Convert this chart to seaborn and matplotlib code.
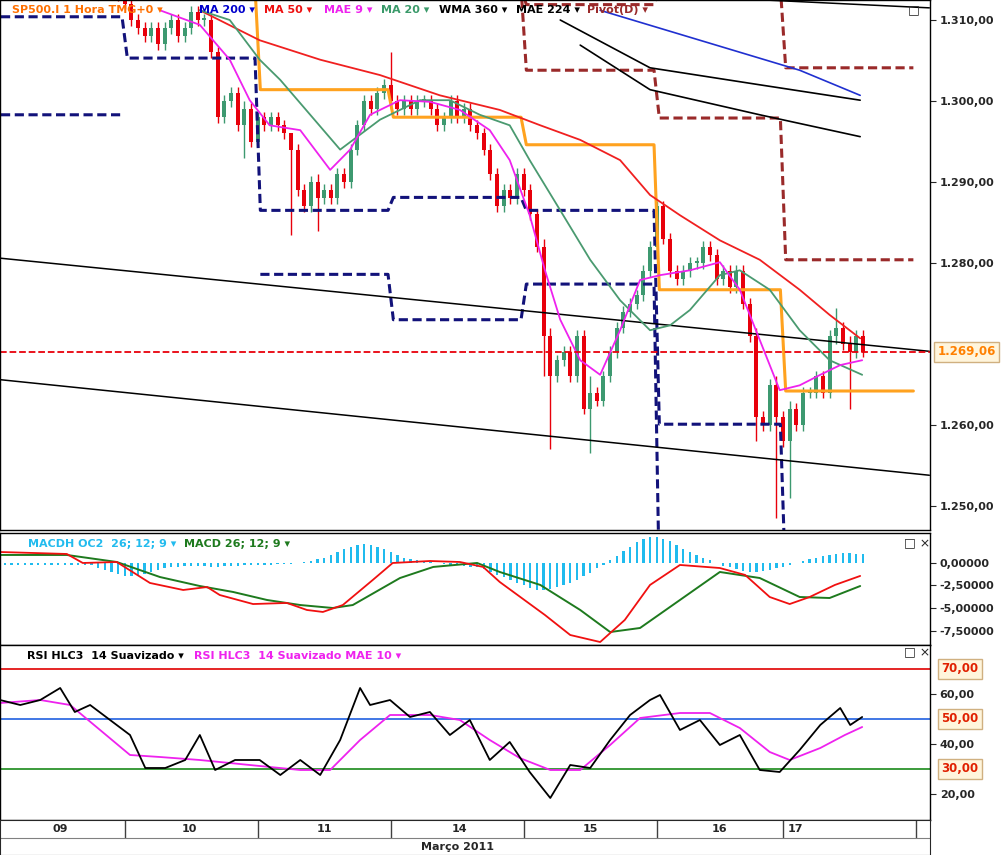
import matplotlib
matplotlib.use("Agg")
import matplotlib.pyplot as plt
import numpy as np
import seaborn as sns

# ---- dados (barras horarias, indice 0..129) ----
closes = [1314, 1315, 1314, 1316, 1315, 1314, 1315, 1316, 1315, 1314,
          1315, 1314, 1316, 1315, 1314, 1315, 1314, 1313, 1312, 1310,
          1309, 1308, 1309, 1307, 1309, 1310, 1308, 1309, 1311, 1310,
          1310, 1306, 1298, 1300, 1301, 1297, 1299, 1295, 1298, 1297,
          1298, 1297, 1296, 1294, 1289, 1287, 1290, 1288, 1289, 1288,
          1291, 1290, 1294, 1297, 1300, 1299, 1301, 1302, 1300, 1299,
          1300, 1299, 1300, 1300, 1299, 1297, 1298, 1300, 1298, 1299,
          1297, 1296, 1294, 1291, 1287, 1289, 1288, 1291, 1289, 1286,
          1282, 1271, 1266, 1268, 1269, 1266, 1271, 1262, 1264, 1263,
          1266, 1269, 1272, 1274, 1275, 1276, 1279, 1282, 1287, 1283,
          1279, 1278, 1279, 1280, 1280, 1282, 1281, 1278, 1279, 1277,
          1279, 1275, 1271, 1261, 1260, 1265, 1261, 1258, 1262, 1260,
          1264, 1264, 1266, 1264, 1271, 1272, 1270, 1269, 1271, 1269.06]
long_wicks = {36: (1300, 1293), 43: (1296, 1283.5), 47: (1291, 1284), 58: (1306, 1299),
              81: (1283, 1266), 82: (1272, 1257), 88: (1266, 1256.5), 113: (1272, 1258),
              116: (1266, 1248.5), 118: (1263, 1251), 125: (1274.5, 1270), 127: (1271, 1262)}
last_price = 1269.06

ma50_x = [29.3, 38.3, 47.4, 56.4, 65.4, 74.4, 80.5, 86.5, 92.5, 97, 101.5, 107.5, 113.5, 119.5, 124, 128.6]
ma50_y = [1311.2, 1307.5, 1305.1, 1303.2, 1300.7, 1298.9, 1297.0, 1295.2, 1292.7, 1288.4, 1285.9,
          1282.8, 1280.4, 1276.7, 1273.6, 1270.7]
mae9_x = [23.3, 29.3, 33.8, 36.8, 39.8, 44.4, 48.9, 51.9, 54.9, 59.4, 63.9, 68.4, 72.9, 75.9, 78.9,
          81.2, 83.5, 86.5, 89.5, 92.5, 95.5, 98.5, 103, 107.5, 110.5, 113.5, 116.5, 119.5, 122.6, 125.6, 128.9]
mae9_y = [1311.2, 1309.4, 1305.1, 1300.1, 1297.0, 1296.4, 1291.5, 1294.0, 1298.3, 1300.1, 1299.9,
          1298.9, 1296.4, 1292.7, 1285.9, 1279.1, 1273.0, 1268.0, 1266.2, 1271.7, 1277.9, 1278.5,
          1279.1, 1280.1, 1276.7, 1270.5, 1264.3, 1264.9, 1266.2, 1267.4, 1268.0]
ma20_x = [29.3, 33.8, 38.3, 41.4, 45.9, 50.4, 56.4, 62.4, 66.9, 71.4, 75.9, 78.9, 83.5, 88, 92.5,
          97, 100, 103, 107.5, 110.5, 115, 119.5, 124, 128.9]
ma20_y = [1311.2, 1310.0, 1305.1, 1302.6, 1298.3, 1294.0, 1297.7, 1300.1, 1300.1, 1298.3, 1297.0,
          1292.7, 1286.5, 1280.4, 1275.4, 1271.7, 1272.3, 1274.2, 1278.5, 1279.1, 1276.7, 1271.7,
          1268.0, 1266.2]
ma200_x = [89.5, 104.5, 119.5, 128.6]
ma200_y = [1311.2, 1307.5, 1303.8, 1300.7]
wma360_x = [83.5, 97, 113.5, 128.6]
wma360_y = [1310.0, 1304.1, 1302.0, 1300.1]
mae224_x = [86.5, 97, 113.5, 128.6]
mae224_y = [1306.9, 1301.4, 1298.3, 1295.6]
top_black_x = [113.5, 139]
top_black_y = [1312.5, 1311.5]
trend_x = [-0.75, 139]
trend_hi = [1280.6, 1269.1]
trend_lo = [1265.6, 1253.8]

day_starts = [-1, 18, 38, 58, 78, 98, 117]
day_ends = [18, 38, 58, 78, 98, 117, 137]
pivot_orange = [np.nan, 1314, 1301.4, 1298.0, 1294.6, 1276.7, 1264.2]
pivot_navy_a = [1310.4, 1305.3, 1286.5, 1288.1, 1286.5, 1260.1, 1240]
pivot_navy_b = [1298.3, np.nan, 1278.6, 1273.0, 1277.4, 1240, np.nan]
pivot_brown_a = [np.nan, np.nan, np.nan, 1314, 1311.9, 1314, 1304.1]
pivot_brown_b = [np.nan, np.nan, np.nan, 1314, 1303.8, 1297.9, 1280.4]

macdh = [-0.2] * 14 + [-0.6, -0.8, -1.0, -1.2, -1.4, -1.5, -1.4, -1.2, -1.0,
         -0.8, -0.6, -0.5, -0.4, -0.3, -0.3,
         -0.3, -0.3, -0.4, -0.4, -0.3, -0.3, -0.3, -0.2, -0.2, -0.2, -0.2, -0.2, -0.1, -0.1,
         -0.1, 0, 0.1, 0.2, 0.4, 0.6, 0.9, 1.2,
         1.5, 1.8, 2.0, 2.1, 2.0, 1.8, 1.5, 1.2, 0.9, 0.6,
         0.4, 0.3, 0.2, 0.1, 0, -0.1, -0.2, -0.2, -0.3, -0.4, -0.5, -0.7,
         -1.0, -1.3, -1.6, -1.9, -2.2, -2.5, -2.8, -3.0, -3.0, -2.9, -2.7, -2.5, -2.2, -1.9, -1.5, -1.1,
         -0.6, -0.2, 0.3, 0.8, 1.3, 1.8, 2.3, 2.7, 2.9, 2.9, 2.7, 2.4, 2.0, 1.6, 1.2, 0.9, 0.6,
         0.3, 0, -0.3, -0.5, -0.7, -0.9, -1.0, -1.0, -0.9, -0.8, -0.6, -0.4,
         -0.2, 0, 0.2, 0.4, 0.6, 0.8, 0.9, 1.0, 1.1, 1.1, 1.0, 1.0]
macd_red_x = [-0.75, 9.3, 11.7, 16.8, 21.8, 26.8, 30.4, 32.3, 37.3, 42.4, 45.4, 47.8, 50.8, 55.3,
              58.3, 63.9, 68.4, 71.9, 74.4, 81.2, 85, 89.5, 93.2, 97, 101.5, 107.5, 111.3, 115,
              118, 121, 124.8, 128.6]
macd_red_y = [1.22, 1.0, 0, 0.11, -2.22, -3.0, -2.67, -3.56, -4.56, -4.44, -5.22, -5.44, -4.67,
              -1.89, 0, 0.22, 0.11, -0.44, -2.11, -5.78, -8.0, -8.78, -6.33, -2.44, -0.22, -0.56,
              -1.33, -3.78, -4.56, -3.78, -2.44, -1.44]
macd_grn_x = [-0.75, 9.3, 16.8, 23.3, 29.3, 34.3, 39.4, 44.4, 49.3, 52.3, 59.4, 64.4, 71, 74.4,
              80.5, 86.5, 91, 95.5, 101.5, 107.5, 113.5, 119.5, 124, 128.6]
macd_grn_y = [0.89, 0.89, 0.11, -1.56, -2.56, -3.22, -4.11, -4.67, -5.0, -4.67, -1.67, -0.44, 0,
              -1.0, -2.44, -5.22, -7.67, -7.22, -4.11, -1.0, -1.67, -3.78, -3.89, -2.56]

rsi_x = [-0.75, 2.3, 5.3, 8.3, 10.5, 12.8, 15.8, 18.8, 21.1, 24.1, 27.1, 29.3, 31.6, 34.6, 38.3,
         41.4, 44.4, 47.4, 50.4, 53.4, 54.9, 57.9, 60.9, 63.9, 66.9, 69.9, 72.9, 75.9, 78.9, 82,
         85, 88, 91, 94, 97, 98.5, 101.5, 104.5, 107.5, 110.5, 113.5, 116.5, 119.5, 122.6, 125.6,
         127.1, 128.9]
rsi_y = [57.6, 55.6, 57.6, 62.4, 52.8, 55.6, 49.6, 43.6, 30.4, 30.4, 33.6, 43.6, 29.6, 33.6, 33.6,
         27.6, 33.6, 27.6, 41.6, 62.4, 55.6, 57.6, 50.8, 52.8, 43.6, 49.6, 33.6, 40.8, 28.8, 18.4,
         31.6, 30.4, 41.6, 51.6, 57.6, 59.6, 45.6, 49.6, 39.6, 43.6, 29.6, 28.8, 37.6, 47.6, 54.4,
         47.6, 50.8]
rsi_ma_x = [-0.75, 5.3, 9.8, 14.3, 18.8, 23.3, 29.3, 36.8, 44.4, 48.9, 53.4, 57.9, 63.9, 68.4,
            72.9, 77.4, 82, 86.5, 91, 95.5, 101.5, 106, 110.5, 115, 118, 122.6, 126.3, 128.9]
rsi_ma_y = [56.4, 57.6, 55.6, 45.6, 35.6, 34.8, 33.6, 31.6, 29.6, 29.6, 41.6, 51.6, 51.6, 49.6,
            41.6, 34.4, 29.6, 29.6, 39.6, 50.4, 52.4, 52.4, 46.4, 36.8, 33.6, 38.4, 43.6, 46.8]

day_labels = ["09", "10", "11", "14", "15", "16", "17"]
day_label_x = [8.3, 27.8, 48.1, 68.4, 88, 107.5, 118.8]


def br(v, d=2):
    s = f"{v:,.{d}f}"
    return s.replace(",", "X").replace(".", ",").replace("X", ".")


sns.set_style("white")
plt.rcParams["font.family"] = ["DejaVu Sans"]

fig = plt.figure(figsize=(10.02, 8.55), dpi=100)
XL = (-0.75, 139.1)
W = 930 / 1002
ax = fig.add_axes([0, 1 - 530 / 855, W, 530 / 855])
axm = fig.add_axes([0, 1 - 645 / 855, W, 112 / 855])
axr = fig.add_axes([0, 1 - 820 / 855, W, 175 / 855])
axd = fig.add_axes([0, 0, W, 35 / 855])

GREEN_C = "#3d9970"
RED_C = "#e8000b"
NAVY = "#12127a"

# ---- candles ----
x = np.arange(len(closes))
opens = [closes[0]] + closes[:-1]
for i in x:
    o, c = opens[i], closes[i]
    col = GREEN_C if c >= o else RED_C
    hi, lo = long_wicks.get(i, (max(o, c) + 0.7, min(o, c) - 0.7))
    ax.vlines(i, lo, hi, color=col, lw=1)
    ax.bar(i, max(abs(c - o), 0.25), bottom=min(o, c), width=0.6, color=col, linewidth=0)


def steps(levels):
    xs, ys = [], []
    for s, e, v in zip(day_starts, day_ends, levels):
        xs += [s + 0.4, e - 0.4]
        ys += [v, v]
    return xs, ys


for lev, col, ls in [(pivot_navy_a, NAVY, "--"), (pivot_navy_b, NAVY, "--"),
                     (pivot_brown_a, "#9a2a2a", "--"), (pivot_brown_b, "#9a2a2a", "--"),
                     (pivot_orange, "#ffa21f", "-")]:
    xs, ys = steps(lev)
    ax.plot(xs, ys, color=col, lw=2.2, ls=ls, dashes=(3, 1.5) if ls == "--" else (None, None))

ax.plot(trend_x, trend_hi, color="black", lw=1.1)
ax.plot(trend_x, trend_lo, color="black", lw=1.1)
ax.plot(top_black_x, top_black_y, color="black", lw=1.1)
sns.lineplot(x=ma200_x, y=ma200_y, ax=ax, color="#2030d0", lw=1.2, sort=False, estimator=None)
sns.lineplot(x=wma360_x, y=wma360_y, ax=ax, color="black", lw=1.2, sort=False, estimator=None)
sns.lineplot(x=mae224_x, y=mae224_y, ax=ax, color="black", lw=1.2, sort=False, estimator=None)
sns.lineplot(x=ma50_x, y=ma50_y, ax=ax, color="#f02020", lw=1.3, sort=False, estimator=None)
sns.lineplot(x=ma20_x, y=ma20_y, ax=ax, color="#4a9a70", lw=1.3, sort=False, estimator=None)
sns.lineplot(x=mae9_x, y=mae9_y, ax=ax, color="#ee22ee", lw=1.3, sort=False, estimator=None)
ax.axhline(last_price, color=RED_C, lw=1.3, ls="--")

ax.set_xlim(XL)
ax.set_ylim(1247.04, 1312.47)
main_ticks = [1250, 1260, 1280, 1290, 1300, 1310]
ax.set_yticks(main_ticks)
ax.set_yticklabels([br(v) for v in main_ticks], fontsize=8, fontweight="bold")
ax.annotate(br(last_price), xy=(1.008, last_price), xycoords=("axes fraction", "data"),
            va="center", ha="left", fontsize=8.5, fontweight="bold", color="#ff8000",
            bbox=dict(boxstyle="square,pad=0.3", fc="#fff5dc", ec="#d0b080"),
            annotation_clip=False, zorder=10)

# ---- MACD ----
axm.bar(x, macdh, width=0.35, color="#20bbee", linewidth=0)
sns.lineplot(x=macd_grn_x, y=macd_grn_y, ax=axm, color="#1e7a1e", lw=1.4, sort=False, estimator=None)
sns.lineplot(x=macd_red_x, y=macd_red_y, ax=axm, color="#f01010", lw=1.3, sort=False, estimator=None)
axm.set_xlim(XL)
axm.set_ylim(-9.11, 3.33)
macd_ticks = [0, -2.5, -5, -7.5]
axm.set_yticks(macd_ticks)
axm.set_yticklabels([br(v, 5) for v in macd_ticks], fontsize=8, fontweight="bold")

# ---- RSI ----
for lv, col in [(70, "#e00000"), (50, "#2060e0"), (30, "#1a8a1a")]:
    axr.axhline(lv, color=col, lw=1.2)
    axr.annotate(br(lv), xy=(1.012, lv), xycoords=("axes fraction", "data"), va="center",
                 ha="left", fontsize=8.5, fontweight="bold", color="#e02000",
                 bbox=dict(boxstyle="square,pad=0.3", fc="#fff5dc", ec="#d0b080"),
                 annotation_clip=False)
sns.lineplot(x=rsi_ma_x, y=rsi_ma_y, ax=axr, color="#ee22ee", lw=1.3, sort=False, estimator=None)
sns.lineplot(x=rsi_x, y=rsi_y, ax=axr, color="black", lw=1.3, sort=False, estimator=None)
axr.set_xlim(XL)
axr.set_ylim(9.6, 79.6)
rsi_ticks = [20, 40, 60]
axr.set_yticks(rsi_ticks)
axr.set_yticklabels([br(v) for v in rsi_ticks], fontsize=8, fontweight="bold")

for a in (ax, axm, axr):
    a.yaxis.tick_right()
    a.tick_params(axis="y", length=4, pad=3, right=True, direction="out")
    a.set_xticks([])
    for s in a.spines.values():
        s.set_color("black")
        s.set_linewidth(1)

# ---- eixo de datas ----
axd.set_xlim(XL)
axd.set_ylim(0, 1)
for s in day_starts[1:] + [137]:
    axd.vlines(s, 0.5, 1, color="#404040", lw=1)
axd.axhline(0.5, color="#808080", lw=0.8)
for lab, px in zip(day_labels, day_label_x):
    axd.text(px, 0.75, lab, ha="center", va="center", fontsize=8, fontweight="bold")
axd.text(68, 0.22, "Março 2011", ha="center", va="center", fontsize=8, fontweight="bold")
axd.set_xticks([])
axd.set_yticks([])

# ---- legendas ----
items = [("SP500.I 1 Hora TMG+0 ▾", "#ff7000", 0.012), ("MA 200 ▾", "#0000cc", 0.199),
         ("MA 50 ▾", "#ee1010", 0.263), ("MAE 9 ▾", "#ee22ee", 0.323),
         ("MA 20 ▾", "#3a9a6a", 0.380), ("WMA 360 ▾", "black", 0.438),
         ("MAE 224 ▾", "black", 0.515), ("Pivot(D) ▾", "#9a2a2a", 0.586)]
for txt, col, fx in items:
    fig.text(fx, 1 - 10 / 855, txt, color=col, fontsize=8, fontweight="bold", va="center")
fig.text(0.028, 1 - 544 / 855, "MACDH OC2  26; 12; 9 ▾", color="#22bbee", fontsize=8,
         fontweight="bold", va="center")
fig.text(0.184, 1 - 544 / 855, "MACD 26; 12; 9 ▾", color="#1e7a1e", fontsize=8,
         fontweight="bold", va="center")
fig.text(0.027, 1 - 656 / 855, "RSI HLC3  14 Suavizado ▾", color="black", fontsize=8,
         fontweight="bold", va="center")
fig.text(0.194, 1 - 656 / 855, "RSI HLC3  14 Suavizado MAE 10 ▾", color="#ee22ee", fontsize=8,
         fontweight="bold", va="center")
fig.text(0.906, 1 - 10 / 855, "□", fontsize=9, va="center")
fig.text(0.902, 1 - 543 / 855, "□ ×", fontsize=9, va="center")
fig.text(0.902, 1 - 652 / 855, "□ ×", fontsize=9, va="center")

fig.savefig("out.png", dpi=100)
